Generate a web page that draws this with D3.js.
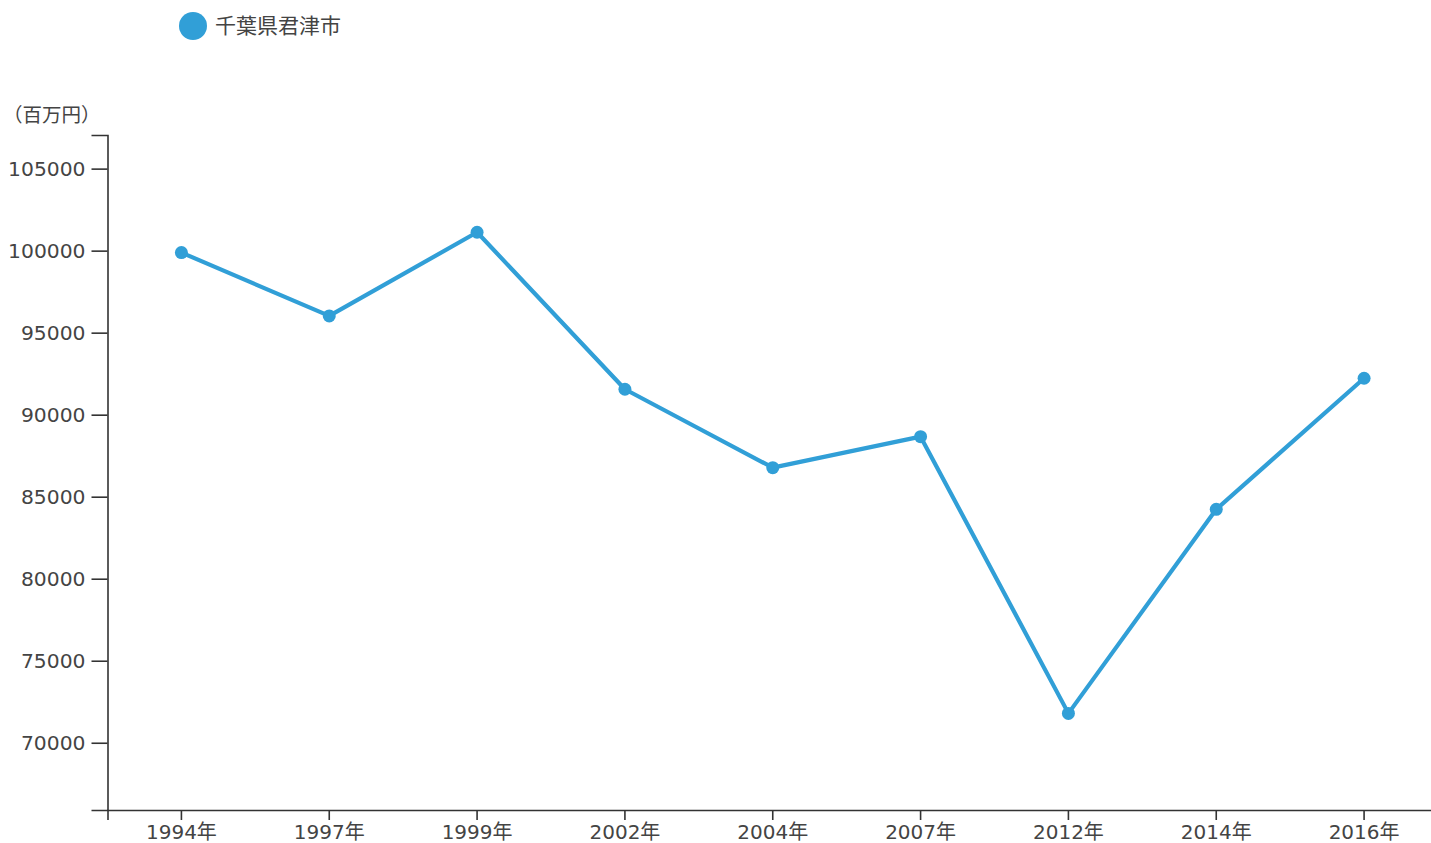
<!DOCTYPE html>
<html>
<head>
<meta charset="utf-8">
<script src="https://cdn.jsdelivr.net/npm/d3@7"></script>
<style>
  body { margin: 0; background: #fff; }
  svg { display: block; }
  .axis path, .axis line { stroke: #333; stroke-width: 1.6; }
  .axis text { fill: #444; }
</style>
</head>
<body>
<svg id="mysvg" width="1431" height="843"></svg>
<script>
// data
var years = ["1994年", "1997年", "1999年", "2002年", "2004年", "2007年", "2012年", "2014年", "2016年"];
var values = [99880, 96020, 101120, 91550, 86770, 88660, 71790, 84230, 92220];
var seriesName = "千葉県君津市";
var unitLabel = "（百万円）";
var yTicks = [70000, 75000, 80000, 85000, 90000, 95000, 100000, 105000];

var color = "#319fd7";
var svg = d3.select("#mysvg");

var x = d3.scaleBand()
    .domain(years)
    .range([107.5, 1438]);

var y = d3.scaleLinear()
    .domain([65900, 107050])
    .range([810, 135]);

// y axis
var yAxis = svg.append("g")
    .attr("class", "axis")
    .attr("transform", "translate(107.5,0)")
    .call(d3.axisLeft(y).tickValues(yTicks).tickSize(16).tickPadding(6).tickFormat(d3.format("d")));
yAxis.selectAll("text")
    .style("font-family", "'DejaVu Sans', Verdana, sans-serif")
    .style("font-size", "20.3px");

// x axis
var xAxis = svg.append("g")
    .attr("class", "axis")
    .attr("transform", "translate(0,810)")
    .call(d3.axisBottom(x).tickSize(10).tickPadding(5));
xAxis.selectAll("text")
    .style("font-family", "'DejaVu Sans', 'Noto Sans CJK JP', sans-serif")
    .style("font-size", "20px");

// unit label
svg.append("text")
    .attr("x", 3)
    .attr("y", 122)
    .attr("fill", "#444")
    .style("font-family", "'Noto Sans CJK JP', sans-serif")
    .style("font-size", "19.5px")
    .text(unitLabel);

// line
var line = d3.line()
    .x(function(d, i) { return x(years[i]) + x.bandwidth() / 2; })
    .y(function(d) { return y(d); });

svg.append("path")
    .datum(values)
    .attr("fill", "none")
    .attr("stroke", color)
    .attr("stroke-width", 4.2)
    .attr("stroke-linejoin", "round")
    .attr("d", line);

svg.append("g")
    .selectAll("circle")
    .data(values)
    .enter()
    .append("circle")
    .attr("cx", function(d, i) { return x(years[i]) + x.bandwidth() / 2; })
    .attr("cy", function(d) { return y(d); })
    .attr("r", 6.5)
    .attr("fill", color);

// legend
var legend = svg.append("g");
legend.append("circle")
    .attr("cx", 193)
    .attr("cy", 26)
    .attr("r", 14)
    .attr("fill", color);
legend.append("text")
    .attr("x", 215)
    .attr("y", 33)
    .attr("fill", "#444")
    .style("font-family", "'Noto Sans CJK JP', sans-serif")
    .style("font-size", "21px")
    .text(seriesName);
</script>
</body>
</html>
